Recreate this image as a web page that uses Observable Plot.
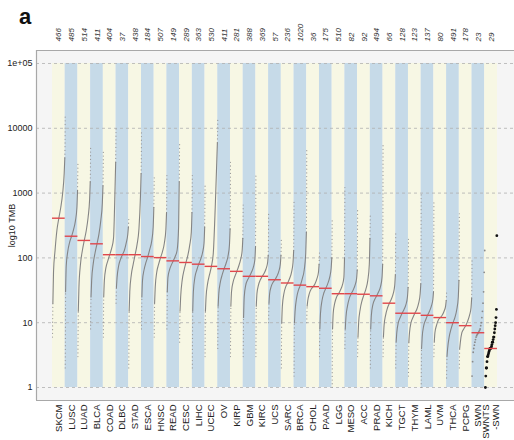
<!DOCTYPE html>
<html><head><meta charset="utf-8">
<script src="https://cdn.jsdelivr.net/npm/d3@7"></script>
<script src="https://cdn.jsdelivr.net/npm/@observablehq/plot@0.6"></script>
<style>
body{margin:0;background:#fff;font-family:"Liberation Sans",Arial,sans-serif;}
#wrap{position:relative;width:514px;height:440px;}
#tag{position:absolute;left:19px;top:6px;font:bold 22px/22px "Liberation Sans",Arial,sans-serif;color:#111;}
#chart{position:absolute;left:0;top:0;}
</style></head><body><div id="wrap"><div id="chart"></div><div id="tag">a</div></div>
<script>
const cohorts = ["SKCM","LUSC","LUAD","BLCA","COAD","DLBC","STAD","ESCA","HNSC","READ","CESC","LIHC","UCEC","OV","KIRP","GBM","KIRC","UCS","SARC","BRCA","CHOL","PAAD","LGG","MESO","ACC","PRAD","KICH","TGCT","THYM","LAML","UVM","THCA","PCPG","SWN","SWNTS\n-SWN"];
const counts = [466,485,514,411,404,37,438,184,507,149,289,363,530,411,281,388,369,57,236,1020,36,175,510,82,92,494,66,128,123,137,80,491,178,23,29];
const medians = [410,216,186,165,112,112,112,105,101,90,85,80,74,68,62,52,52,46,41,38,36,34,28,28,27.5,26,20,14,14,13,12,10,9,7,4];
const qFractions = [0,0.01,0.03,0.08,0.2,0.35,0.5,0.65,0.8,0.92,0.97,0.99,1];
const tcgaQuantiles = [
  [6,9,20,60,130,270,410,600,1000,2000,3500,6000,15000],
  [2,3,30,75,125,175,216,270,370,600,1100,2000,2800],
  [3,6,15,35,80,130,186,260,420,800,1500,3000,5500],
  [8,14,25,45,80,120,165,230,380,700,1300,2500,4500],
  [6,12,25,45,70,90,112,140,200,1200,3000,6000,10000],
  [20,25,35,50,75,95,112,130,170,230,300,350,400],
  [2,4,15,30,55,80,112,160,280,900,2000,4000,9000],
  [8,10,25,45,65,85,105,135,180,300,600,1000,1800],
  [6,10,20,35,60,80,101,125,170,280,500,900,2000],
  [8,10,30,50,65,78,90,105,130,300,1500,4000,6000],
  [5,8,15,25,45,65,85,110,160,250,500,1200,2000],
  [2,5,15,30,50,65,80,95,120,170,300,700,1300],
  [3,8,15,25,40,55,74,120,600,3000,6000,9000,14000],
  [4,8,18,28,42,55,68,82,105,160,280,700,3000],
  [3,6,18,30,42,52,62,75,95,130,200,350,700],
  [3,5,12,25,38,46,52,60,72,95,150,600,2000],
  [3,8,18,28,38,46,52,58,68,85,110,200,500],
  [10,14,20,28,36,42,46,52,62,80,110,150,200],
  [2,4,10,18,28,36,41,48,60,85,130,300,800],
  [1.5,5,10,15,24,32,38,48,65,120,250,700,5000],
  [10,14,18,22,28,33,36,40,48,60,80,100,120],
  [3,5,8,14,22,29,34,40,50,70,100,200,400],
  [1,4,8,14,20,25,28,32,38,50,100,500,1300],
  [4,6,8,12,18,24,28,32,38,48,65,200,600],
  [3,4,6,10,16,22,27,33,45,80,200,350,500],
  [2,5,8,13,19,23,26,30,36,50,80,300,6000],
  [3,4,6,9,13,17,20,23,28,38,55,120,250],
  [2,3,5,7,10,12,14,16,19,25,35,60,200],
  [1.5,3,5,7,10,12,14,16,20,28,40,150,1000],
  [1,2,4,6,9,11,13,15,18,23,30,80,800],
  [3,4,5,7,9,11,12,13,15,18,22,26,30],
  [1.4,2,3,4,6,8,10,12,16,25,45,150,480],
  [2,3,4,5,7,8,9,10.5,13,17,24,40,100]
];
const swnValues = [1.5,2.5,3.5,4,4.5,5,5.5,6,6.3,6.6,6.8,7,7.3,7.6,8,9,10,12,15,20,30,60,130];
const swntsValues = [1,1.5,2,2,2.5,3,3,3.2,3.4,3.6,3.8,4,4,4,4.1,4.3,4.6,5,5,5.5,6,6,7,8,9,10,12,16,220];
const yTicks = [1,10,100,1000,10000,100000];
const yTickLabels = ["1","10","100","1000","10000","1e+05"];

const bandColors = ["#f7f7e4","#c6dae8"];
const xMin = -1.258, xMax = 36.34;
const yMin = Math.pow(10,-0.2006), yMax = Math.pow(10,5.2006);
// positions (in scale units) for the rotated annotation texts
const pxPerUnit = 478 / (xMax - xMin);
const yLabelX = xMin - 24 / pxPerUnit;
const yLabelY = Math.pow(10, 2.5);
const countsY = Math.pow(10, (387 - 41) / 64.8);
const namesY = Math.pow(10, (387 - 404) / 64.8);

const idx = cohorts.map((c,i)=>i);
const bodyPts = [], tailPts = [];
tcgaQuantiles.forEach((qs,i)=>{
  qs.forEach((v,j)=>{
    const f = qFractions[j];
    const p = {x: i + f, v, c: cohorts[i]};
    if (f >= 0.03 && f <= 0.97) bodyPts.push(p);
    if (f <= 0.03) tailPts.push({...p, part: cohorts[i]+"lo"});
    if (f >= 0.97) tailPts.push({...p, part: cohorts[i]+"hi"});
  });
});
const swnPts = swnValues.map((v,k)=>({x: 33 + k/(swnValues.length-1), v}));
const swntsPts = swntsValues.map((v,k)=>({x: 34 + 0.05 + 0.9*k/(swntsValues.length-1), v}));

const chart = Plot.plot({
  width: 514, height: 440,
  marginTop: 50, marginBottom: 40, marginLeft: 36, marginRight: 0,
  style: {fontFamily: "'Liberation Sans', Arial, sans-serif", background: "transparent", overflow: "visible"},
  x: {type: "linear", domain: [xMin, xMax], axis: null},
  y: {type: "log", domain: [yMin, yMax], axis: null},
  marks: [
    Plot.frame({fill: "#f5f5f5", stroke: null}),
    Plot.rect(idx, {x1: i=>i, x2: i=>i+1, y1: 1, y2: 100000, fill: i=>bandColors[i%2]}),
    Plot.ruleY(yTicks, {stroke: "#b0b0b0", strokeWidth: 0.8, strokeDasharray: "3,3"}),
    Plot.line(tailPts, {x: "x", y: "v", z: "part", stroke: "#9a9a9a", strokeWidth: 1.2, strokeDasharray: "0.1,3.6", strokeLinecap: "round"}),
    Plot.line(bodyPts, {x: "x", y: "v", z: "c", stroke: "#858585", strokeWidth: 1.1, curve: "monotone-x"}),
    Plot.dot(swnPts, {x: "x", y: "v", r: 0.9, fill: "#8a8a8a"}),
    Plot.dot(swntsPts, {x: "x", y: "v", r: 1.4, fill: "#111"}),
    Plot.ruleY(medians, {y: d=>d, x1: (d,i)=>i, x2: (d,i)=>i+1, stroke: "#e0474c", strokeWidth: 1.4}),
    Plot.ruleX([xMin], {stroke: "#a8a8a8", strokeWidth: 1.2}),
    Plot.ruleY([yMin, yMax], {stroke: "#a8a8a8", strokeWidth: 1.2}),
    Plot.text(yTicks, {y: d=>d, frameAnchor: "left", dx: -4, textAnchor: "end", text: (d,i)=>yTickLabels[i], fontSize: 9, fill: "#222"}),
    Plot.text(["log10 TMB"], {x: yLabelX, y: yLabelY, rotate: -90, textAnchor: "middle", text: d=>d, fontSize: 9, fill: "#222"}),
    Plot.text(idx, {x: i=>i+0.5, y: countsY, rotate: -90, textAnchor: "start", text: i=>String(counts[i]), fontSize: 8, fontStyle: "italic", fill: "#333"}),
    Plot.text(idx, {x: i=>i+0.5, y: namesY, rotate: -90, textAnchor: "end", text: i=>cohorts[i], fontSize: 9.5, fill: "#222", lineHeight: 1.0})
  ]
});
document.getElementById("chart").appendChild(chart);
</script>
</body></html>
